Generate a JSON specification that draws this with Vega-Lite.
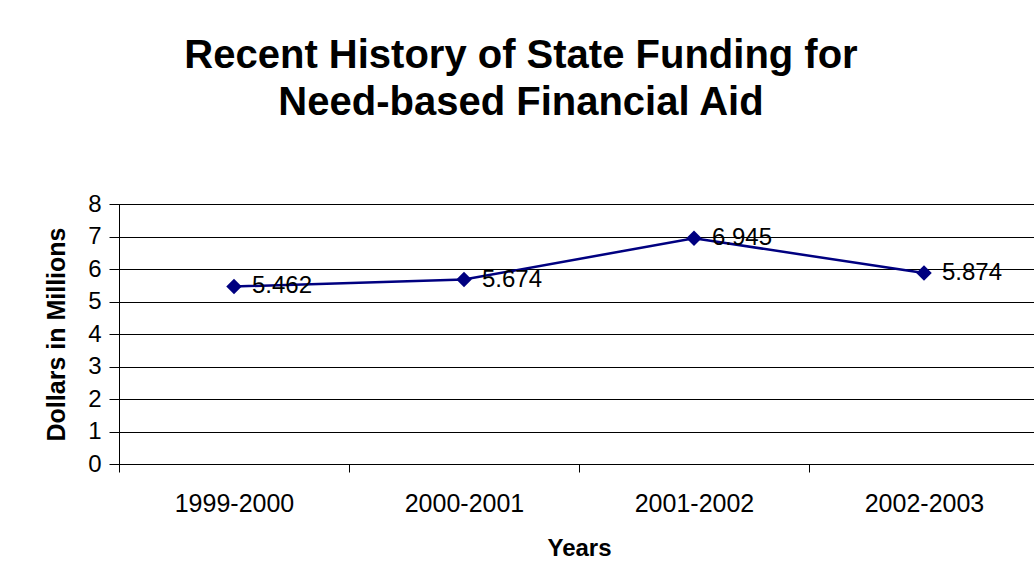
{
  "$schema": "https://vega.github.io/schema/vega-lite/v6.json",
  "width": 920,
  "height": 260,
  "autosize": "none",
  "padding": {"left": 119, "top": 204, "right": 0, "bottom": 119},
  "background": "white",
  "config": {
    "font": "Liberation Sans",
    "view": {"stroke": "#000", "strokeWidth": 1}
  },
  "title": {
    "text": ["Recent History of State Funding for", "Need-based Financial Aid"],
    "font": "Liberation Sans",
    "fontSize": 40,
    "fontWeight": "bold",
    "color": "#000",
    "anchor": "middle",
    "frame": "group",
    "dx": -58,
    "offset": 37,
    "lineHeight": 47,
    "baseline": "alphabetic"
  },
  "data": {
    "values": [
      {"year": "1999-2000", "dollars": 5.462},
      {"year": "2000-2001", "dollars": 5.674},
      {"year": "2001-2002", "dollars": 6.945},
      {"year": "2002-2003", "dollars": 5.874}
    ]
  },
  "encoding": {
    "x": {
      "field": "year",
      "type": "nominal",
      "sort": null,
      "bandPosition": 0.5,
      "scale": {"type": "band", "paddingInner": 0, "paddingOuter": 0},
      "axis": {
        "title": "Years",
        "titleFontSize": 24,
        "titleFontWeight": "bold",
        "titleColor": "#000",
        "titlePadding": 20,
        "labelFontSize": 25,
        "labelColor": "#000",
        "labelAngle": 0,
        "labelPadding": 19,
        "tickBand": "extent",
        "tickSize": 8,
        "tickColor": "#000",
        "domainColor": "#000",
        "grid": false
      }
    },
    "y": {
      "field": "dollars",
      "type": "quantitative",
      "scale": {"domain": [0, 8], "nice": false},
      "axis": {
        "title": "Dollars in Millions",
        "titleFontSize": 25,
        "titleFontWeight": "bold",
        "titleColor": "#000",
        "titlePadding": 18,
        "values": [0, 1, 2, 3, 4, 5, 6, 7, 8],
        "labelFontSize": 24,
        "labelColor": "#000",
        "labelPadding": 8,
        "tickSize": 10,
        "tickColor": "#000",
        "domainColor": "#000",
        "grid": true,
        "gridColor": "#000",
        "gridOpacity": 1
      }
    }
  },
  "layer": [
    {"mark": {"type": "line", "color": "#000080", "strokeWidth": 2.5}},
    {"mark": {"type": "point", "shape": "diamond", "filled": true, "color": "#000080", "size": 240, "opacity": 1}},
    {
      "mark": {"type": "text", "align": "left", "baseline": "middle", "dx": 18, "dy": 0, "fontSize": 24, "color": "#000"},
      "encoding": {"text": {"field": "dollars", "type": "quantitative", "format": ".3f"}}
    }
  ]
}
